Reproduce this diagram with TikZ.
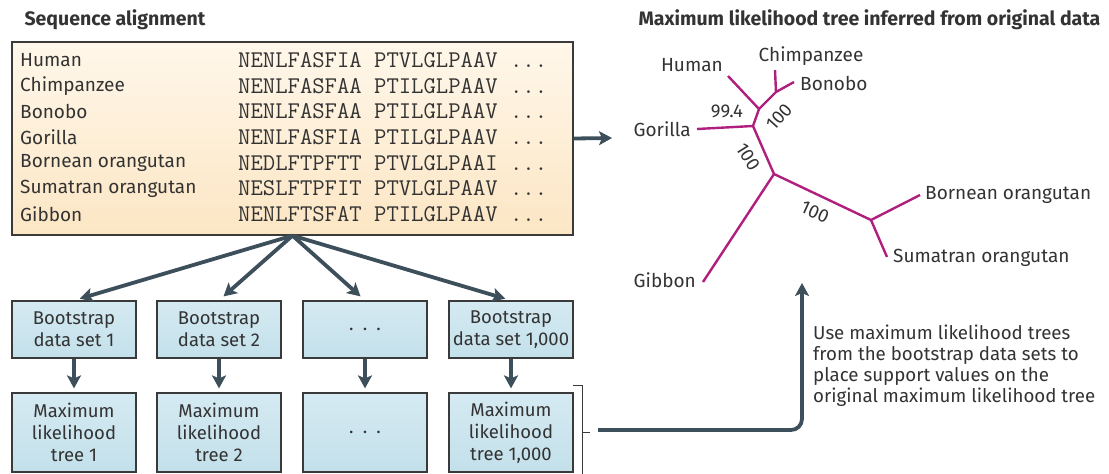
\documentclass[tikz,border=0pt]{standalone}
\usepackage{fontspec}
\setmainfont{Fira Sans}
\usetikzlibrary{arrows.meta}
\definecolor{inkgray}{HTML}{333333}
\definecolor{linegray}{HTML}{3A3A3A}
\definecolor{arrowslate}{HTML}{3C4F5B}
\definecolor{treepink}{HTML}{B01E7E}
\definecolor{creamtop}{HTML}{FFF7EA}
\definecolor{creambot}{HTML}{FCE6C4}
\definecolor{bluetop}{HTML}{D5EAF2}
\definecolor{bluebot}{HTML}{C3E0EA}
\newcommand{\txtsize}{\fontsize{19}{22}\selectfont}
\newcommand{\seqsize}{\fontsize{24}{24}\selectfont}
\newcommand{\rowgap}{25.7}

\begin{document}
\begin{tikzpicture}[x=1pt,y=-1pt,
    every node/.style={text=inkgray, font=\txtsize},
    headline/.style={anchor=base west, font=\fontsize{19.5}{22}\selectfont\bfseries},
    bluebox/.style={draw=linegray, line width=1.2pt, top color=bluetop, bottom color=bluebot,
      minimum width=124pt, align=center, inner sep=0pt, font=\fontsize{18.5}{22}\selectfont},
    fatarrow/.style={draw=arrowslate, line width=3.8pt,
      -{Stealth[length=13pt, width=14pt, inset=3pt]}},
    branch/.style={draw=treepink, line width=2.4pt},
    support/.style={font=\fontsize{18.5}{20}\selectfont, inner sep=0pt}]

  \useasboundingbox (0,0) rectangle (1109,474);

  % sequence alignment
  \node at (21,25) [headline] {Sequence alignment};
  \node (align) at (292.5,138.5) [draw=linegray, line width=1.2pt, top color=creamtop,
    bottom color=creambot, minimum width=561pt, minimum height=193pt] {};
  \foreach \name/\seq [count=\i from 0] in {Human/NENLFASFIA PTVLGLPAAV,
      Chimpanzee/NENLFASFAA PTILGLPAAV, Bonobo/NENLFASFAA PTILGLPAAV,
      Gorilla/NENLFASFIA PTILGLPAAV, Bornean orangutan/NEDLFTPFTT PTVLGLPAAI,
      Sumatran orangutan/NESLFTPFIT PTVLGLPAAV, Gibbon/NENLFTSFAT PTILGLPAAV} {
    \node (name\i) at (20,60+\i*\rowgap) [anchor=west, inner sep=0pt] {\name};
    \node (seq\i) at (238,60+\i*\rowgap) [anchor=west, inner sep=0pt, font=\seqsize\ttfamily] {\seq\ ...};
  }

  % bootstrap boxes
  \node (bs1) at (74,329.5) [bluebox, minimum height=57pt] {Bootstrap\\data set 1};
  \node (bs2) at (219,329.5) [bluebox, minimum height=57pt] {Bootstrap\\data set 2};
  \node (bs3) at (365,329.5) [bluebox, minimum height=57pt] {.\,\,\,.\,\,\,.};
  \node (bs4) at (511,329.5) [bluebox, minimum height=57pt] {Bootstrap\\data set 1,000};
  \node (ml1) at (74,432.5) [bluebox, minimum height=79pt] {Maximum\\likelihood\\tree 1};
  \node (ml2) at (219,432.5) [bluebox, minimum height=79pt] {Maximum\\likelihood\\tree 2};
  \node (ml3) at (365,432.5) [bluebox, minimum height=79pt] {.\,\,\,.\,\,\,.};
  \node (ml4) at (511,432.5) [bluebox, minimum height=79pt] {Maximum\\likelihood\\tree 1,000};

  \foreach \i in {1,...,4} {
    \draw[fatarrow, shorten >=6pt] (align.south) to (bs\i.north);
    \draw[fatarrow, shorten >=4pt] (bs\i.south) to (ml\i.north);
  }

  % bracket and return arrow
  \coordinate (brtop) at (573,385);
  \coordinate (brmid) at (582,432);
  \coordinate (back) at (598,430);
  \coordinate (treefoot) at (802,283);
  \draw[linegray, line width=0.9pt] (brtop) -- (582,385) -- (582,474);
  \draw[linegray, line width=0.9pt] (brmid) -- (590,432);
  \draw[fatarrow, rounded corners=11pt] (back) -| (treefoot);
  \node (note) at (813,366) [anchor=west, align=left, inner sep=0pt,
    font=\fontsize{18.7}{21}\selectfont] {Use maximum likelihood trees\\from the bootstrap data sets to\\place support values on the\\original maximum likelihood tree};

  % tree
  \coordinate (treein) at (612,138);
  \draw[fatarrow] (align.east) to (treein);
  \node at (635,25) [headline] {Maximum likelihood tree inferred from original data};

  \coordinate (tHuman) at (728,76);
  \coordinate (tChimp) at (775,70);
  \coordinate (tBonobo) at (794,82);
  \coordinate (tGorilla) at (697,129);
  \coordinate (tGibbon) at (703,282);
  \coordinate (tBornean) at (920,195);
  \coordinate (tSumatran) at (887,257);
  \coordinate (nA) at (759,109);
  \coordinate (nB) at (776,92);
  \coordinate (nC) at (753,126);
  \coordinate (nD) at (774,174);
  \coordinate (nE) at (871,220);
  \draw[branch]
  (tHuman) to (nA) to (nB) to (tChimp)
  (nB) to (tBonobo)
  (nA) to (nC) to (tGorilla)
  (nC) to (nD) to (tGibbon)
  (nD) to (nE) to (tBornean)
  (nE) to (tSumatran);

  \node (lHuman) at (723,65) [anchor=east, inner sep=0pt] {Human};
  \node (lChimp) at (811,56) [inner sep=0pt] {Chimpanzee};
  \node (lBonobo) at (800,83) [anchor=west, inner sep=0pt] {Bonobo};
  \node (lGorilla) at (691,129) [anchor=east, inner sep=0pt] {Gorilla};
  \node (lGibbon) at (696,280) [anchor=east, inner sep=0pt] {Gibbon};
  \node (lBornean) at (925,195) [anchor=west, inner sep=0pt] {Bornean orangutan};
  \node (lSumatran) at (893,258) [anchor=west, inner sep=0pt] {Sumatran orangutan};

  \node (s1) at (727,111) [support] {99.4};
  \node (s2) at (779,117) [support, rotate=48] {100};
  \node (s3) at (748,157) [support, rotate=-58] {100};
  \node (s4) at (815,212) [support, rotate=-24] {100};
\end{tikzpicture}
\end{document}
